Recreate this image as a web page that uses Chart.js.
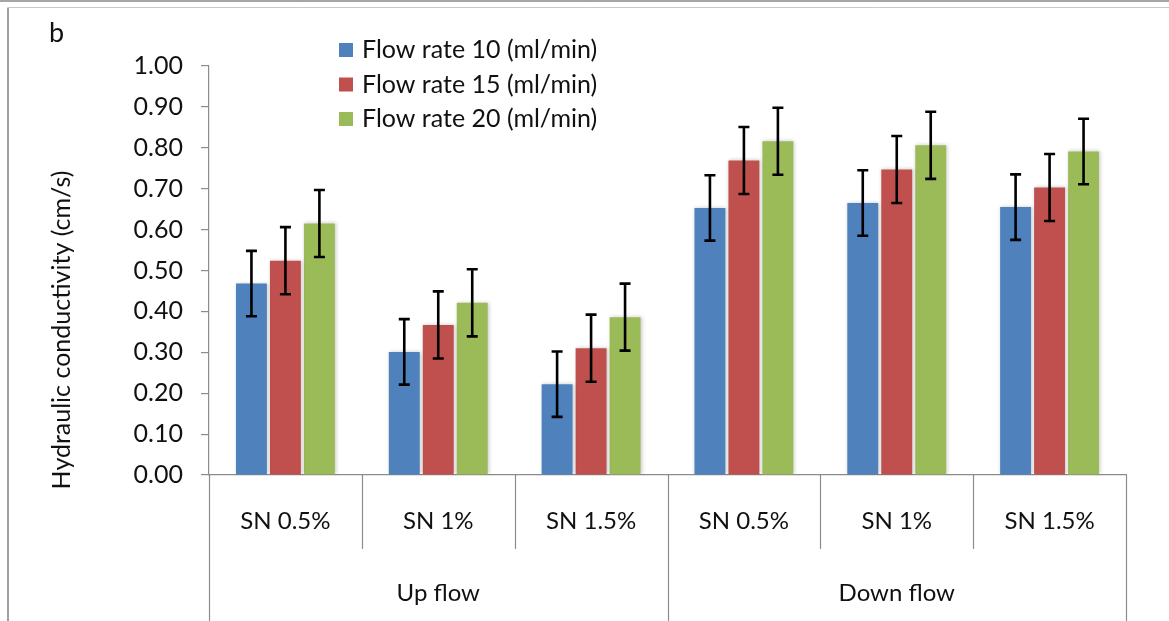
<!DOCTYPE html>
<html>
<head>
<meta charset="utf-8">
<script src="https://cdn.jsdelivr.net/npm/chart.js@4/dist/chart.umd.min.js"></script>
<style>
  html, body { margin: 0; padding: 0; background: #ffffff; }
  #wrap { width: 1169px; height: 621px; position: relative; }
</style>
</head>
<body>
<div id="wrap"><canvas id="chart" width="1169" height="621"></canvas></div>
<script>
// Hydraulic conductivity by flow direction, SN dosage and flow rate
const categories = ['SN 0.5%', 'SN 1%', 'SN 1.5%', 'SN 0.5%', 'SN 1%', 'SN 1.5%'];
const groupNames = ['Up flow', 'Down flow'];
const groupSizes = [3, 3];
const seriesNames = ['Flow rate 10 (ml/min)', 'Flow rate 15 (ml/min)', 'Flow rate 20 (ml/min)'];

const flow10 = [0.468, 0.301, 0.222, 0.653, 0.665, 0.655];
const flow15 = [0.524, 0.367, 0.310, 0.769, 0.747, 0.703];
const flow20 = [0.615, 0.421, 0.386, 0.816, 0.806, 0.791];

const err10 = [0.080, 0.080, 0.080, 0.080, 0.080, 0.080];
const err15 = [0.082, 0.082, 0.082, 0.082, 0.082, 0.082];
const err20 = [0.082, 0.082, 0.082, 0.082, 0.082, 0.080];

const colors = ['#4F81BD', '#C0504D', '#9BBB59'];
const FONT = 'Lato, "Open Sans", sans-serif';
const AXIS = '#8c8c8c';
const TEXT = '#111111';

// Error whiskers, plotted through the value scale
const errorBars = {
  id: 'errorBars',
  afterDatasetsDraw(chart) {
    const ctx = chart.ctx;
    const y = chart.scales.y;
    ctx.save();
    ctx.strokeStyle = '#000000';
    ctx.lineWidth = 2.6;
    chart.data.datasets.forEach((ds, di) => {
      const meta = chart.getDatasetMeta(di);
      meta.data.forEach((bar, i) => {
        const v = ds.data[i], e = ds.errors[i];
        const top = y.getPixelForValue(v + e);
        const bot = y.getPixelForValue(v - e);
        const cap = 5.5;
        ctx.beginPath();
        ctx.moveTo(bar.x, top); ctx.lineTo(bar.x, bot);
        ctx.moveTo(bar.x - cap, top); ctx.lineTo(bar.x + cap, top);
        ctx.moveTo(bar.x - cap, bot); ctx.lineTo(bar.x + cap, bot);
        ctx.stroke();
      });
    });
    ctx.restore();
  }
};

// Soft halo behind the bars
const barHalo = {
  id: 'barHalo',
  beforeDatasetsDraw(chart) {
    const ctx = chart.ctx;
    ctx.save();
    ctx.shadowColor = 'rgba(0,0,0,0.22)';
    ctx.shadowBlur = 4;
    ctx.shadowOffsetX = 1;
    ctx.shadowOffsetY = 0;
  },
  afterDatasetsDraw(chart) {
    chart.ctx.restore();
  }
};

// Frame, panel letter, legend, axis title and two-level category labels
const decorations = {
  id: 'decorations',
  afterDraw(chart) {
    const ctx = chart.ctx;
    const x = chart.scales.x;
    const area = chart.chartArea;
    const W = chart.width, H = chart.height;
    ctx.save();

    // outer frame
    ctx.strokeStyle = '#a6a6a6';
    ctx.lineWidth = 2;
    ctx.beginPath(); ctx.moveTo(0, 1); ctx.lineTo(W, 1); ctx.stroke();
    ctx.strokeStyle = '#c8c8c8';
    ctx.lineWidth = 1;
    ctx.beginPath(); ctx.moveTo(7.5, H); ctx.lineTo(7.5, 7.5); ctx.lineTo(W, 7.5); ctx.stroke();
    ctx.strokeStyle = '#a0a0a0';
    ctx.lineWidth = 2;
    ctx.beginPath(); ctx.moveTo(8, 8); ctx.lineTo(8, H); ctx.stroke();

    // panel letter
    ctx.fillStyle = TEXT;
    ctx.font = '27px ' + FONT;
    ctx.textAlign = 'left';
    ctx.textBaseline = 'middle';
    ctx.fillText('b', 49, 33);

    // legend
    ctx.font = '25px ' + FONT;
    seriesNames.forEach((name, i) => {
      const cy = 50 + i * 34.5;
      ctx.fillStyle = colors[i];
      ctx.fillRect(339, cy - 7, 14, 14);
      ctx.fillStyle = TEXT;
      ctx.fillText(name, 362, cy);
    });

    // value-axis title
    ctx.save();
    ctx.translate(62, 330);
    ctx.rotate(-Math.PI / 2);
    ctx.textAlign = 'center';
    ctx.fillStyle = TEXT;
    ctx.font = '25px ' + FONT;
    ctx.fillText('Hydraulic conductivity (cm/s)', 0, 0);
    ctx.restore();

    // category boundaries
    const n = categories.length;
    const bounds = [];
    for (let i = 0; i <= n; i++) {
      if (i === 0) bounds.push(x.left);
      else if (i === n) bounds.push(x.right);
      else bounds.push((x.getPixelForTick(i - 1) + x.getPixelForTick(i)) / 2);
    }
    const outer = new Set([0]);
    let acc = 0;
    groupSizes.forEach(s => { acc += s; outer.add(acc); });
    ctx.strokeStyle = AXIS;
    ctx.lineWidth = 1.2;
    bounds.forEach((bx, i) => {
      const px = Math.round(bx) + 0.5;
      ctx.beginPath();
      ctx.moveTo(px, area.bottom);
      ctx.lineTo(px, outer.has(i) ? H : area.bottom + 74);
      ctx.stroke();
    });

    // inner labels
    ctx.fillStyle = TEXT;
    ctx.font = '24px ' + FONT;
    ctx.textAlign = 'center';
    categories.forEach((c, i) => {
      ctx.fillText(c, x.getPixelForTick(i), area.bottom + 46);
    });
    // group labels
    let start = 0;
    groupNames.forEach((g, gi) => {
      const end = start + groupSizes[gi];
      const cx = (bounds[start] + bounds[end]) / 2;
      ctx.fillText(g, cx, area.bottom + 118);
      start = end;
    });
    ctx.restore();
  }
};

const values = [flow10, flow15, flow20];
const errors = [err10, err15, err20];

new Chart(document.getElementById('chart'), {
  type: 'bar',
  data: {
    labels: categories,
    datasets: seriesNames.map((name, i) => ({
      label: name,
      data: values[i],
      errors: errors[i],
      backgroundColor: colors[i],
      borderWidth: 0,
      categoryPercentage: 0.667,
      barPercentage: 0.91
    }))
  },
  plugins: [barHalo, errorBars, decorations],
  options: {
    responsive: false,
    animation: false,
    devicePixelRatio: 1,
    layout: { padding: { left: 0, top: 66, right: 43, bottom: 0 } },
    plugins: { legend: { display: false }, tooltip: { enabled: false } },
    scales: {
      x: {
        grid: { display: false },
        border: { display: true, color: AXIS, width: 1.2 },
        ticks: { display: false },
        afterFit(scale) { scale.height = 146; }
      },
      y: {
        min: 0,
        max: 1,
        ticks: {
          stepSize: 0.1,
          padding: 18,
          color: TEXT,
          font: { family: FONT, size: 25 },
          callback: v => Number(v).toFixed(2)
        },
        grid: { drawOnChartArea: false, drawTicks: true, tickLength: 8, color: AXIS, lineWidth: 1.2 },
        border: { display: true, color: AXIS, width: 1.2 },
        afterFit(scale) { scale.width = 209; }
      }
    }
  }
});
</script>
</body>
</html>
